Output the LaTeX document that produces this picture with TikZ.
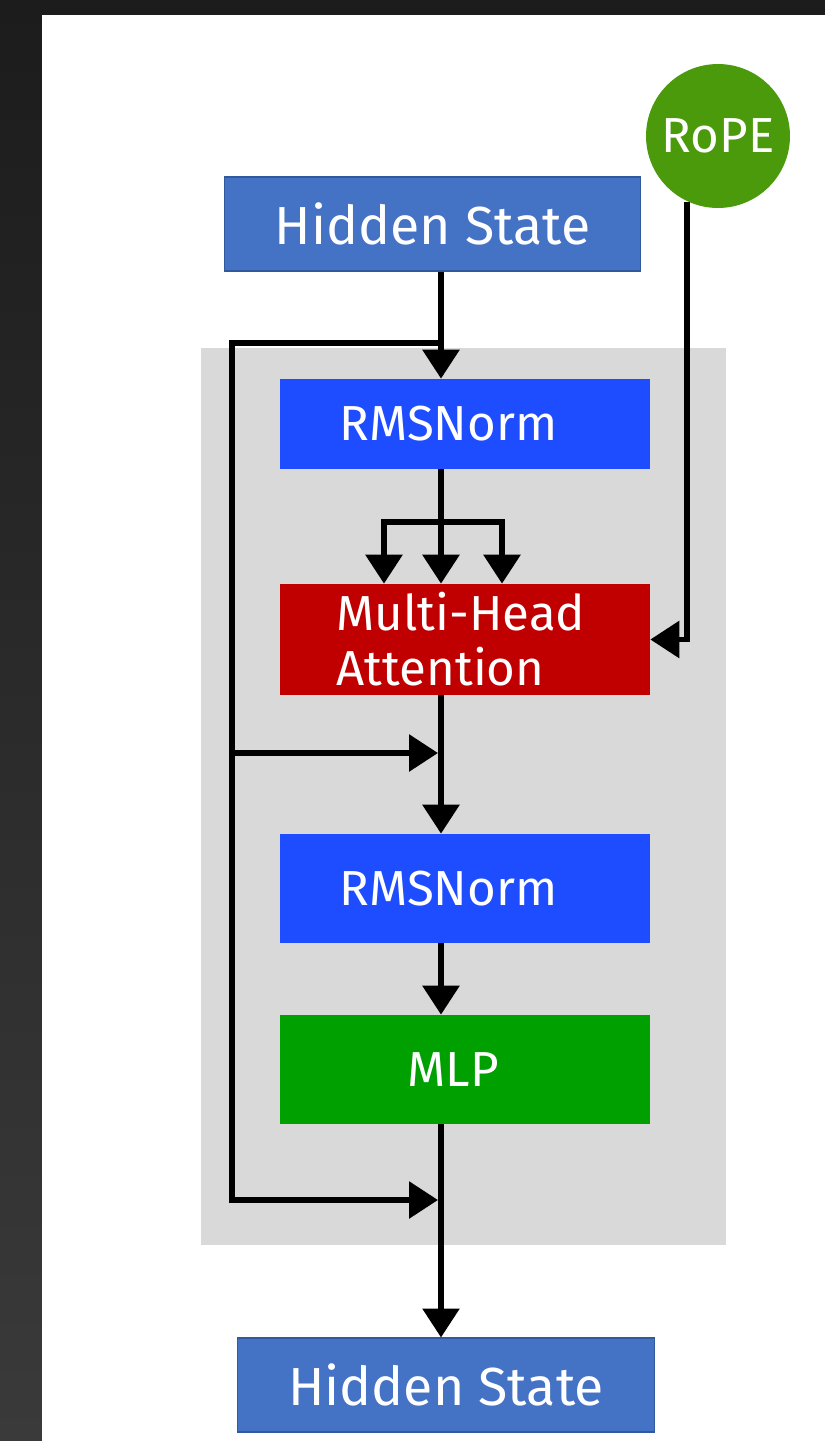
\documentclass[tikz,border=0pt]{standalone}
\usepackage{fontspec}
\setmainfont{Fira Sans}
\usetikzlibrary{arrows.meta}
\definecolor{hsblue}{RGB}{68,114,196}
\definecolor{hsedge}{RGB}{50,88,158}
\definecolor{rmsblue}{RGB}{30,76,255}
\definecolor{mhared}{RGB}{192,0,0}
\definecolor{mlpgreen}{RGB}{0,160,0}
\definecolor{ropegreen}{RGB}{74,154,12}
\definecolor{panelgray}{RGB}{217,217,217}
\definecolor{darktop}{RGB}{28,28,28}
\definecolor{darkbot}{RGB}{58,58,58}
\tikzset{
  box/.style={rectangle, inner sep=0pt, text=white, minimum width=7.4cm},
  hsbox/.style={rectangle, inner sep=0pt, text=white, fill=hsblue, draw=hsedge, line width=0.6pt,
     minimum width=8.34cm, minimum height=1.88cm, font=\fontsize{30.5}{36}\selectfont},
  innerfont/.style={font=\fontsize{28}{31.3}\selectfont},
  conn/.style={line width=3.4pt, draw=black},
  arr/.style={conn, -{Triangle[width=0.72cm,length=0.58cm]}},
}
\begin{document}
\begin{tikzpicture}[x=0.02cm,y=-0.02cm]
% page background
\useasboundingbox (0,0) rectangle (825,1441);
\shade[top color=darktop, bottom color=darkbot] (0,0) rectangle (42,1441);
\fill[darktop] (0,0) rectangle (825,15);
\fill[white] (42,15) rectangle (825,1441);

% helper coordinates (x only / junctions)
\coordinate (ax) at (441,0);
\coordinate (lx) at (232,0);
\coordinate (sl) at (384,0);
\coordinate (sr) at (502,0);
\coordinate (j0) at (441,343);
\coordinate (sp) at (441,522);
\coordinate (r1) at (438,753);
\coordinate (r2) at (438,1200);

% decoder block panel
\node[rectangle, fill=panelgray, inner sep=0pt, minimum width=10.5cm, minimum height=17.94cm] (panel) at (463.5,796.5) {};

% nodes
\node[hsbox] (hs1) at (432.5,224) {Hidden State};
\node[circle, fill=ropegreen, text=white, inner sep=0pt, minimum size=2.88cm,
      font=\fontsize{28}{30}\selectfont] (rope) at (718,136) {RoPE};
\node[box, fill=rmsblue, minimum height=1.8cm, innerfont] (rms1) at (465,424) {\raisebox{-0.1cm}{RMSNorm}\kern0.66cm};
\node[box, fill=mhared, minimum height=2.22cm, innerfont, align=left] (mha) at (465,639.5) {Multi-Head\kern0.16cm\\Attention};
\node[box, fill=rmsblue, minimum height=2.18cm, innerfont] (rms2) at (465,888.5) {RMSNorm\kern0.66cm};
\node[box, fill=mlpgreen, minimum height=2.18cm, innerfont] (mlp) at (465,1069.5) {MLP\kern0.48cm};
\node[hsbox, minimum width=8.36cm] (hs2) at (446,1385) {Hidden State};

% main flow
\draw[arr] (hs1.south -| ax) -- (rms1.north -| ax);
\draw[conn] (rms1.south -| ax) -- (sp);
\draw[arr] (sp) -- (mha.north -| ax);
\draw[arr] (sp) -| (mha.north -| sl);
\draw[arr] (sp) -| (mha.north -| sr);
\draw[arr] (mha.south -| ax) -- (rms2.north -| ax);
\draw[arr] (rms2.south -| ax) -- (mlp.north -| ax);
\draw[arr] (mlp.south -| ax) -- (hs2.north -| ax);

% RoPE into attention
\draw[arr] (rope.-115) |- (mha.east);

% residual connections
\draw[arr] (j0) -- (lx |- j0) -- (lx |- r2) -- (r2);
\draw[arr] (lx |- r1) -- (r1);
\end{tikzpicture}
\end{document}
